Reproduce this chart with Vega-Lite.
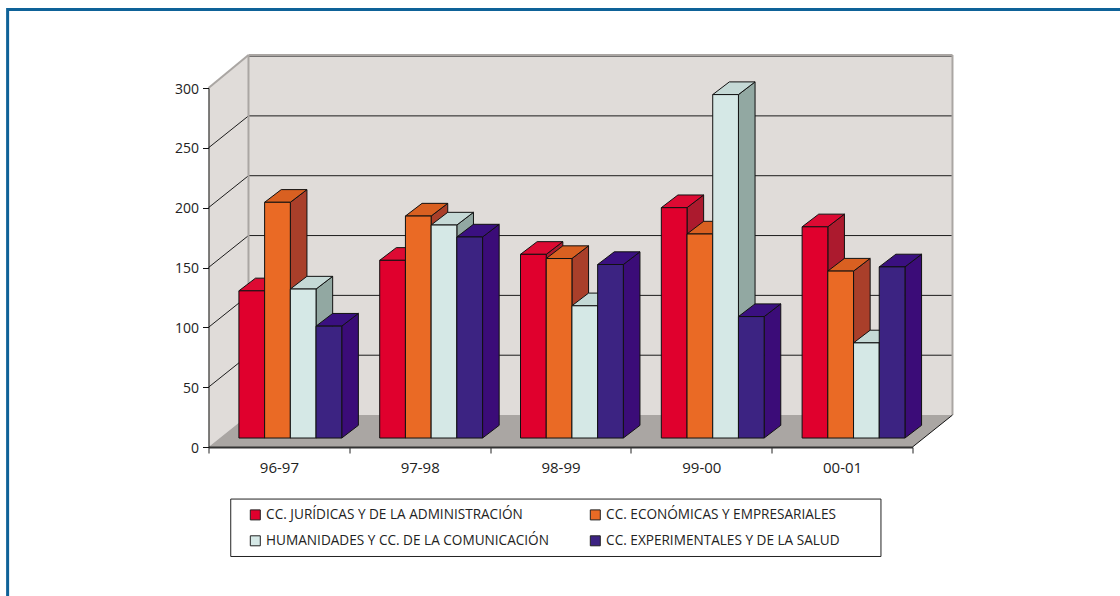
{
"$schema":"https://vega.github.io/schema/vega-lite/v6.json",
"width":704,"height":359,"autosize":"none",
"padding":{"left":208.5,"top":88,"right":207.5,"bottom":149},
"background":"white",
"view":{"stroke":null},
"config":{"font":"Open Sans"},
"datasets":{
"barras":[
{"curso":"96-97","serie":"CC. JURÍDICAS Y DE LA ADMINISTRACIÓN","valor":123},
{"curso":"96-97","serie":"CC. ECONÓMICAS Y EMPRESARIALES","valor":197},
{"curso":"96-97","serie":"HUMANIDADES Y CC. DE LA COMUNICACIÓN","valor":124.5},
{"curso":"96-97","serie":"CC. EXPERIMENTALES Y DE LA SALUD","valor":93.5},
{"curso":"97-98","serie":"CC. JURÍDICAS Y DE LA ADMINISTRACIÓN","valor":148.5},
{"curso":"97-98","serie":"CC. ECONÓMICAS Y EMPRESARIALES","valor":185.5},
{"curso":"97-98","serie":"HUMANIDADES Y CC. DE LA COMUNICACIÓN","valor":178},
{"curso":"97-98","serie":"CC. EXPERIMENTALES Y DE LA SALUD","valor":168},
{"curso":"98-99","serie":"CC. JURÍDICAS Y DE LA ADMINISTRACIÓN","valor":153.5},
{"curso":"98-99","serie":"CC. ECONÓMICAS Y EMPRESARIALES","valor":150},
{"curso":"98-99","serie":"HUMANIDADES Y CC. DE LA COMUNICACIÓN","valor":110.5},
{"curso":"98-99","serie":"CC. EXPERIMENTALES Y DE LA SALUD","valor":145},
{"curso":"99-00","serie":"CC. JURÍDICAS Y DE LA ADMINISTRACIÓN","valor":192.5},
{"curso":"99-00","serie":"CC. ECONÓMICAS Y EMPRESARIALES","valor":170.5},
{"curso":"99-00","serie":"HUMANIDADES Y CC. DE LA COMUNICACIÓN","valor":287},
{"curso":"99-00","serie":"CC. EXPERIMENTALES Y DE LA SALUD","valor":101.5},
{"curso":"00-01","serie":"CC. JURÍDICAS Y DE LA ADMINISTRACIÓN","valor":176.5},
{"curso":"00-01","serie":"CC. ECONÓMICAS Y EMPRESARIALES","valor":139.5},
{"curso":"00-01","serie":"HUMANIDADES Y CC. DE LA COMUNICACIÓN","valor":79.5},
{"curso":"00-01","serie":"CC. EXPERIMENTALES Y DE LA SALUD","valor":143}
],
"rejilla":[{"v":50},{"v":100},{"v":150},{"v":200},{"v":250},{"v":300}],
"paredIzq":[{"px":0,"sup":300,"inf":0},{"px":0.284,"sup":327.6,"inf":26.7}],
"suelo":[{"py":0,"a":0,"b":5},{"py":26.7,"a":0.284,"b":5.284}],
"bordes":[
{"a":0.284,"b":5.284,"c":327.6,"d":327.6},
{"a":0.284,"b":0.284,"c":26.7,"d":327.6},
{"a":5.284,"b":5.284,"c":26.7,"d":327.6},
{"a":0,"b":0.284,"c":300,"d":327.6}
]
},
"data":{"name":"barras"},
"transform":[
{"calculate":"indexof(['96-97','97-98','98-99','99-00','00-01'],datum.curso)","as":"c"},
{"calculate":"indexof(['CC. JURÍDICAS Y DE LA ADMINISTRACIÓN','CC. ECONÓMICAS Y EMPRESARIALES','HUMANIDADES Y CC. DE LA COMUNICACIÓN','CC. EXPERIMENTALES Y DE LA SALUD'],datum.serie)","as":"s"},
{"calculate":"datum.c+0.216+datum.s*0.1826","as":"xl"},
{"calculate":"datum.xl+0.1826","as":"xr"},
{"calculate":"datum.valor+7.5","as":"top"},
{"calculate":"[0,1]","as":"t"},
{"flatten":["t"]},
{"calculate":"datum.xl+datum.t*0.118","as":"tl"},
{"calculate":"datum.xr+datum.t*0.118","as":"tr"},
{"calculate":"datum.top+datum.t*10.6","as":"ty"},
{"calculate":"7.5+datum.t*10.6","as":"by"}
],
"layer":[
{"data":{"values":[{}]},"mark":{"type":"rect","fill":"white","stroke":"#0e6298","strokeWidth":3},
 "encoding":{"x":{"datum":-1.4267,"type":"quantitative","scale":{"domain":[0,5]}},"x2":{"datum":8.5},"y":{"datum":365.6,"type":"quantitative","scale":{"domain":[0,300]}},"y2":{"datum":-144.6}}},
{"data":{"values":[{}]},"mark":{"type":"rect","fill":"#e0dcd9"},
 "encoding":{"x":{"datum":0.284,"type":"quantitative","scale":{"domain":[0,5]}},"x2":{"datum":5.284},"y":{"datum":327.6,"type":"quantitative","scale":{"domain":[0,300]}},"y2":{"datum":26.7}}},
{"data":{"name":"paredIzq"},"mark":{"type":"area","fill":"#e0dcd9"},
 "encoding":{"x":{"field":"px","type":"quantitative","scale":{"domain":[0,5]}},"y":{"field":"sup","type":"quantitative","stack":null,"scale":{"domain":[0,300]}},"y2":{"field":"inf"}}},
{"data":{"name":"suelo"},"mark":{"type":"area","orient":"horizontal","fill":"#aaa6a3"},
 "encoding":{"y":{"field":"py","type":"quantitative","scale":{"domain":[0,300]}},"x":{"field":"a","type":"quantitative","stack":null,"scale":{"domain":[0,5]}},"x2":{"field":"b"}}},
{"data":{"name":"rejilla"},"transform":[{"calculate":"datum.v+26.7","as":"atras"}],"mark":{"type":"rule","stroke":"#1c1c1c","strokeWidth":1},
 "encoding":{"x":{"datum":0.284,"type":"quantitative","scale":{"domain":[0,5]}},"x2":{"datum":5.284},"y":{"field":"atras","type":"quantitative","scale":{"domain":[0,300]}}}},
{"data":{"name":"rejilla"},"transform":[{"calculate":"datum.v+26.7","as":"atras"},{"filter":"datum.v<300"}],"mark":{"type":"rule","stroke":"#1c1c1c","strokeWidth":1},
 "encoding":{"x":{"datum":0,"type":"quantitative","scale":{"domain":[0,5]}},"x2":{"datum":0.284},"y":{"field":"v","type":"quantitative","scale":{"domain":[0,300]}},"y2":{"field":"atras"}}},
{"data":{"name":"bordes"},"mark":{"type":"rule","stroke":"#aaa6a3","strokeWidth":2},
 "encoding":{"x":{"field":"a","type":"quantitative","scale":{"domain":[0,5]}},"x2":{"field":"b"},"y":{"field":"c","type":"quantitative","scale":{"domain":[0,300]}},"y2":{"field":"d"}}},
{"data":{"values":[{}]},"mark":{"type":"rule","stroke":"#111111","strokeWidth":1},
 "encoding":{"x":{"datum":5,"type":"quantitative","scale":{"domain":[0,5]}},"x2":{"datum":5.284},"y":{"datum":0,"type":"quantitative","scale":{"domain":[0,300]}},"y2":{"datum":26.7}}},
{"data":{"values":[{}]},"mark":{"type":"rect","fill":"white","stroke":"#222222","strokeWidth":1},
 "encoding":{"x":{"datum":0.158,"type":"quantitative","scale":{"domain":[0,5]}},"x2":{"datum":4.776},"y":{"datum":-43.5,"type":"quantitative","scale":{"domain":[0,300]}},"y2":{"datum":-91.5}}},
{"mark":{"type":"area","stroke":"#111111","strokeWidth":1},
 "encoding":{"x":{"field":"tr","type":"quantitative","scale":{"domain":[0,5]}},"y":{"field":"ty","type":"quantitative","stack":null,"scale":{"domain":[0,300]}},"y2":{"field":"by"},"detail":{"field":"curso"},
 "fill":{"field":"serie","type":"nominal","legend":null,"scale":{"domain":["CC. JURÍDICAS Y DE LA ADMINISTRACIÓN","CC. ECONÓMICAS Y EMPRESARIALES","HUMANIDADES Y CC. DE LA COMUNICACIÓN","CC. EXPERIMENTALES Y DE LA SALUD"],"range":["#ac1a2e","#a93f2a","#92a8a2","#3b0c78"]}}}},
{"mark":{"type":"area","orient":"horizontal","stroke":"#111111","strokeWidth":1},
 "encoding":{"y":{"field":"ty","type":"quantitative","scale":{"domain":[0,300]}},"x":{"field":"tl","type":"quantitative","stack":null,"scale":{"domain":[0,5]}},"x2":{"field":"tr"},"detail":{"field":"curso"},
 "fill":{"field":"serie","type":"nominal","legend":null,"scale":{"domain":["CC. JURÍDICAS Y DE LA ADMINISTRACIÓN","CC. ECONÓMICAS Y EMPRESARIALES","HUMANIDADES Y CC. DE LA COMUNICACIÓN","CC. EXPERIMENTALES Y DE LA SALUD"],"range":["#dd0a33","#d96021","#c5d9d6","#3a1080"]}}}},
{"transform":[{"filter":"datum.t==0"}],"mark":{"type":"rect","stroke":"#111111","strokeWidth":1},
 "encoding":{"x":{"field":"xl","type":"quantitative","scale":{"domain":[0,5]},
   "axis":{"title":null,"values":[0,0.5,1,1.5,2,2.5,3,3.5,4,4.5,5],"grid":false,"zindex":1,"domainColor":"#333333","domainWidth":2,"tickColor":"#222222","tickSize":6,"tickOpacity":{"condition":{"test":"datum.value%1==0","value":1},"value":0},"labelExpr":"datum.value%1==0?'':['96-97','97-98','98-99','99-00','00-01'][floor(datum.value)]","labelFont":"Open Sans","labelFontSize":15,"labelColor":"#222222","labelPadding":7}},
  "x2":{"field":"xr"},
  "y":{"field":"top","type":"quantitative","scale":{"domain":[0,300]},
   "axis":{"title":null,"values":[0,50,100,150,200,250,300],"grid":false,"zindex":1,"domainColor":"#111111","domainWidth":1,"tickColor":"#111111","tickSize":6,"labelFont":"Open Sans","labelFontSize":14,"labelColor":"#222222","labelPadding":4,"labelOffset":1}},
  "y2":{"datum":7.5},
  "fill":{"field":"serie","type":"nominal","scale":{"domain":["CC. JURÍDICAS Y DE LA ADMINISTRACIÓN","HUMANIDADES Y CC. DE LA COMUNICACIÓN","CC. ECONÓMICAS Y EMPRESARIALES","CC. EXPERIMENTALES Y DE LA SALUD"],"range":["#e0002d","#d5e8e6","#ea6a25","#3c2382"]},
   "legend":{"title":null,"orient":"none","legendX":40,"legendY":420,"columns":2,"padding":0,"symbolType":"square","symbolSize":100,"symbolStrokeColor":"#222222","symbolStrokeWidth":1,"symbolOpacity":1,"labelFont":"Open Sans","labelFontSize":13.6,"labelColor":"#222222","labelOffset":4,"rowPadding":11,"columnPadding":38,"labelLimit":400}}}}
],
"resolve":{"scale":{"fill":"independent"}}
}
